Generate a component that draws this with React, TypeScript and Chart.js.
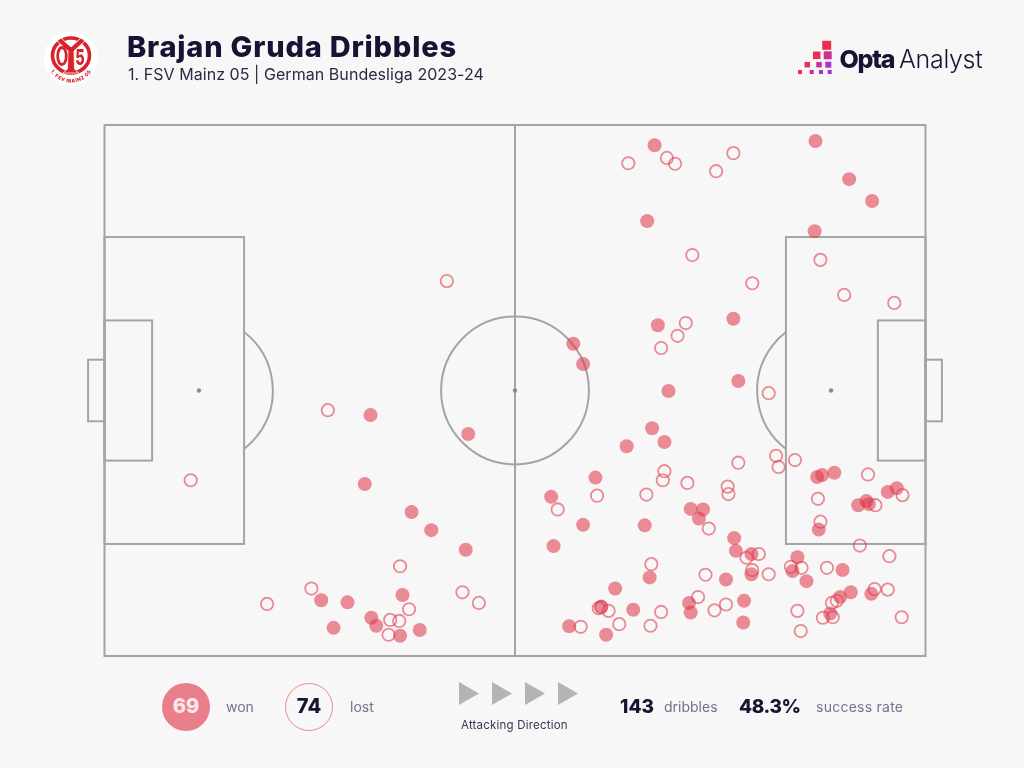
import React, { useEffect, useRef } from "react";
import { Chart, registerables } from "chart.js";

Chart.register(...registerables);

// Opta pitch coordinates (0-100 on both axes)
const wonX = [67.0,86.6,90.7,93.5,66.1,86.5,67.4,76.6,57.1,58.3,68.7,77.2,66.7,68.2,63.6,59.8,54.4,58.3,65.8,54.7,71.4,72.9,72.4,66.4,62.2,60.5,64.4,56.6,61.1,71.2,71.4,75.7,86.8,87.4,88.9,91.8,92.8,93.1,95.4,96.5,87.0,76.7,76.9,78.8,84.4,83.8,78.8,89.9,85.5,90.9,89.6,93.4,77.9,77.8,88.4,32.4,44.3,31.7,37.4,39.8,44.0,36.3,26.4,29.6,32.5,33.1,27.9,38.4,36.0];
const wonY = [96.2,97.0,89.8,85.7,81.9,80.0,62.3,63.5,58.8,55.0,49.9,51.8,42.9,40.3,39.5,33.6,30.0,24.7,24.6,20.7,27.7,27.6,25.9,14.8,12.7,9.3,8.7,5.6,4.0,10.0,8.2,14.4,33.7,34.1,34.5,28.4,29.2,28.6,30.9,31.6,23.8,22.2,19.8,19.2,18.6,16.0,15.4,16.2,14.1,12.0,11.1,11.7,10.4,6.3,8.0,45.4,41.8,32.4,27.1,23.7,20.0,11.5,10.5,10.1,7.2,5.7,5.3,4.9,3.8];
const lostX = [41.7,27.2,10.5,63.8,68.5,69.5,76.6,74.5,71.6,87.2,78.9,90.1,96.2,70.8,69.8,67.8,80.9,36.0,19.8,25.2,43.6,45.6,37.1,34.8,35.9,34.6,68.2,68.0,71.0,66.0,60.0,55.2,75.9,76.0,73.6,66.6,73.2,72.3,60.2,61.4,67.8,74.3,75.7,62.7,66.5,58.0,77.2,81.8,82.1,84.1,93.0,97.2,93.9,86.9,87.2,92.0,95.6,79.7,78.2,78.9,80.9,83.6,84.9,88.0,93.8,95.4,88.6,89.2,84.4,87.5,88.7,84.8,97.1,60.5];
const lostY = [70.6,46.3,33.1,92.8,93.8,92.7,94.7,91.3,75.5,74.6,70.2,68.0,66.5,62.7,60.3,58.0,49.5,16.9,9.8,12.7,12.0,10.0,8.8,6.8,6.6,4.0,34.8,33.1,32.6,30.4,30.2,27.6,31.9,30.5,24.0,17.3,15.3,11.1,9.0,8.5,8.3,8.6,9.7,6.0,5.7,5.5,36.4,37.7,35.6,36.9,34.2,30.3,28.4,29.6,25.3,20.8,18.8,19.2,18.5,16.2,15.4,16.8,16.6,16.6,12.6,12.5,10.0,10.4,8.5,7.2,7.3,4.7,7.3,9.2];

const RED = "rgba(222,58,78,0.58)";
const LINE = "#a4a4a4";
const BG = "#f7f7f7";
const DARK = "#1a1233";
const GREY = "#74718a";
const CREST = "#d8222c";

const pitchPlugin = {
  id: "pitch",
  beforeDatasetsDraw(chart: any) {
    const { ctx, scales } = chart;
    const X = (v: number) => scales.x.getPixelForValue(v);
    const Y = (v: number) => scales.y.getPixelForValue(v);
    const rect = (x0: number, x1: number, y0: number, y1: number) => {
      ctx.strokeRect(X(x0), Y(y1), X(x1) - X(x0), Y(y0) - Y(y1));
    };
    ctx.save();
    ctx.strokeStyle = LINE;
    ctx.lineWidth = 2;
    rect(0, 100, 0, 100);
    rect(0, 17, 21.1, 78.9);
    rect(83, 100, 21.1, 78.9);
    rect(0, 5.8, 36.8, 63.2);
    rect(94.2, 100, 36.8, 63.2);
    rect(-2, 0, 44.2, 55.8);
    rect(100, 102, 44.2, 55.8);
    ctx.beginPath();
    ctx.moveTo(X(50), Y(0));
    ctx.lineTo(X(50), Y(100));
    ctx.stroke();
    const rx = X(9) - X(0);
    const ry = Y(0) - Y(13.93);
    ctx.beginPath();
    ctx.ellipse(X(50), Y(50), rx, ry, 0, 0, Math.PI * 2);
    ctx.stroke();
    const a = Math.acos((17 - 11.5) / 9);
    ctx.beginPath();
    ctx.ellipse(X(11.5), Y(50), rx, ry, 0, -a, a);
    ctx.stroke();
    ctx.beginPath();
    ctx.ellipse(X(88.5), Y(50), rx, ry, 0, Math.PI - a, Math.PI + a);
    ctx.stroke();
    ctx.fillStyle = "#8a8a8a";
    for (const s of [11.5, 50, 88.5]) {
      ctx.beginPath();
      ctx.arc(X(s), Y(50), 2.2, 0, Math.PI * 2);
      ctx.fill();
    }
    ctx.restore();
  },
};

function T(props: { x: number; cy: number; size: number; weight?: number; color: string; spacing?: number; children: any }) {
  const { x, cy, size, weight = 400, color, spacing = 0, children } = props;
  return (
    <div
      style={{
        position: "absolute",
        left: x,
        top: cy - size,
        height: size * 2,
        lineHeight: `${size * 2}px`,
        fontSize: size,
        fontWeight: weight,
        color,
        whiteSpace: "nowrap",
        letterSpacing: spacing,
        fontFamily: "Inter, sans-serif",
      }}
    >
      {children}
    </div>
  );
}

function MainzLogo() {
  return (
    <svg width="64" height="64" viewBox="0 0 64 64" style={{ position: "absolute", left: 39, top: 26 }}>
      <circle cx="31.7" cy="32.3" r="27" fill="#ffffff" />
      <ellipse cx="32" cy="29.5" rx="18.5" ry="17.5" fill="none" stroke={CREST} strokeWidth="3.6" />
      <path d="M22 12 L32 21 L42 12 L46 15 L35 25 L35.5 43 L40 47 L24 47 L28.5 43 L29 25 L18 15 Z" fill={CREST} stroke="#ffffff" strokeWidth="0.8" />
      <ellipse cx="23" cy="30" rx="4.3" ry="8.5" fill="none" stroke={CREST} strokeWidth="2.8" />
      <text transform="translate(41 38.5) scale(0.85 1.25)" fontSize="17" fontWeight="800" textAnchor="middle" fill={CREST} fontFamily="Inter, sans-serif">5</text>
      <defs>
        <path id="crestArc" d="M8.5 39 A24.5 24.5 0 0 0 55.5 39" />
      </defs>
      <text fontSize="5" fontWeight="800" fill={CREST} fontFamily="Inter, sans-serif" letterSpacing="0.5">
        <textPath href="#crestArc" startOffset="50%" textAnchor="middle">1. FSV MAINZ 05</textPath>
      </text>
    </svg>
  );
}

const optaSquares: [number, number, number, string][] = [
  [826.7, 45.3, 9, "#ee2e50"],
  [816.7, 55.3, 7.5, "#ec2f56"],
  [827.7, 55.3, 8, "#cf2f8e"],
  [807.3, 64.7, 5.5, "#ea2f5a"],
  [819, 64.7, 5.5, "#c92f9a"],
  [828.3, 64.7, 6, "#a932c8"],
  [800, 72, 4, "#e8305c"],
  [811.7, 72, 4, "#c0309f"],
  [821, 72, 4, "#ad32bd"],
  [829.7, 72, 4, "#9c33d6"],
];

function OptaLogo() {
  return (
    <>
      <svg width="1024" height="100" style={{ position: "absolute", left: 0, top: 0 }}>
        {optaSquares.map(([x, y, s, c], i) => (
          <rect key={i} x={x - s / 2} y={y - s / 2} width={s} height={s} fill={c} />
        ))}
      </svg>
      <T x={839.5} cy={58.5} size={25} weight={800} color={DARK} spacing={-1.2}>Opta</T>
      <T x={899} cy={58.5} size={25} weight={300} color={DARK} spacing={-0.3}>Analyst</T>
    </>
  );
}

function Triangle({ x }: { x: number }) {
  return (
    <svg width="22" height="26" style={{ position: "absolute", left: x, top: 681 }}>
      <polygon points="0,1 20,12.5 0,24" fill="#b4b4b4" />
    </svg>
  );
}

function Disc({ cx, filled, value }: { cx: number; filled: boolean; value: string }) {
  return (
    <div
      style={{
        position: "absolute",
        left: cx - 24,
        top: 683,
        width: 48,
        height: 48,
        boxSizing: "border-box",
        borderRadius: "50%",
        backgroundColor: filled ? "#e97f8b" : "transparent",
        border: filled ? "none" : "1.5px solid #e98a95",
        textAlign: "center",
        lineHeight: filled ? "47px" : "44px",
        fontSize: 20,
        fontWeight: 800,
        fontFamily: "Inter, sans-serif",
        color: filled ? "#fbe7ea" : DARK,
      }}
    >
      {value}
    </div>
  );
}

export default function App() {
  const ref = useRef<HTMLCanvasElement | null>(null);
  useEffect(() => {
    document.body.style.margin = "0";
    document.body.style.background = BG;
    const chart = new Chart(ref.current as HTMLCanvasElement, {
      type: "scatter",
      data: {
        datasets: [
          {
            label: "lost",
            data: lostX.map((x, i) => ({ x, y: lostY[i] })),
            pointRadius: 6.2,
            pointBackgroundColor: "transparent",
            pointBorderColor: RED,
            pointBorderWidth: 1.8,
          },
          {
            label: "won",
            data: wonX.map((x, i) => ({ x, y: wonY[i] })),
            pointRadius: 7,
            pointBackgroundColor: RED,
            pointBorderWidth: 0,
          },
        ],
      },
      options: {
        responsive: false,
        animation: false,
        layout: { padding: { left: 104.5, right: 98.5, top: 125, bottom: 112 } },
        plugins: { legend: { display: false }, tooltip: { enabled: false } },
        scales: {
          x: { type: "linear", min: 0, max: 100, display: false },
          y: { type: "linear", min: 0, max: 100, display: false },
        },
      },
      plugins: [pitchPlugin],
    } as any);
    return () => chart.destroy();
  }, []);
  return (
    <div style={{ position: "relative", width: 1024, height: 768, background: BG, overflow: "hidden" }}>
      <canvas ref={ref} width={1024} height={768} style={{ position: "absolute", left: 0, top: 0, display: "block" }} />
      <MainzLogo />
      <T x={127} cy={47} size={29} weight={800} color={DARK} spacing={0.8}>Brajan Gruda Dribbles</T>
      <T x={128} cy={74} size={16} color="#2e2844" spacing={0.05}>1. FSV Mainz 05 | German Bundesliga 2023-24</T>
      <OptaLogo />
      <Disc cx={186} filled value="69" />
      <T x={226} cy={707} size={14} color={GREY}>won</T>
      <Disc cx={309} filled={false} value="74" />
      <T x={350} cy={707} size={14} color={GREY}>lost</T>
      {[459, 492, 525, 558].map((x) => <Triangle key={x} x={x} />)}
      <T x={461} cy={725.5} size={11.5} color="#3a3650" spacing={0.2}>Attacking Direction</T>
      <T x={620} cy={707} size={19} weight={800} color={DARK}>143</T>
      <T x={664} cy={707} size={14} color={GREY}>dribbles</T>
      <T x={739} cy={707} size={19} weight={800} color={DARK} spacing={-0.4}>48.3%</T>
      <T x={816} cy={707} size={14} color={GREY} spacing={0.25}>success rate</T>
    </div>
  );
}
